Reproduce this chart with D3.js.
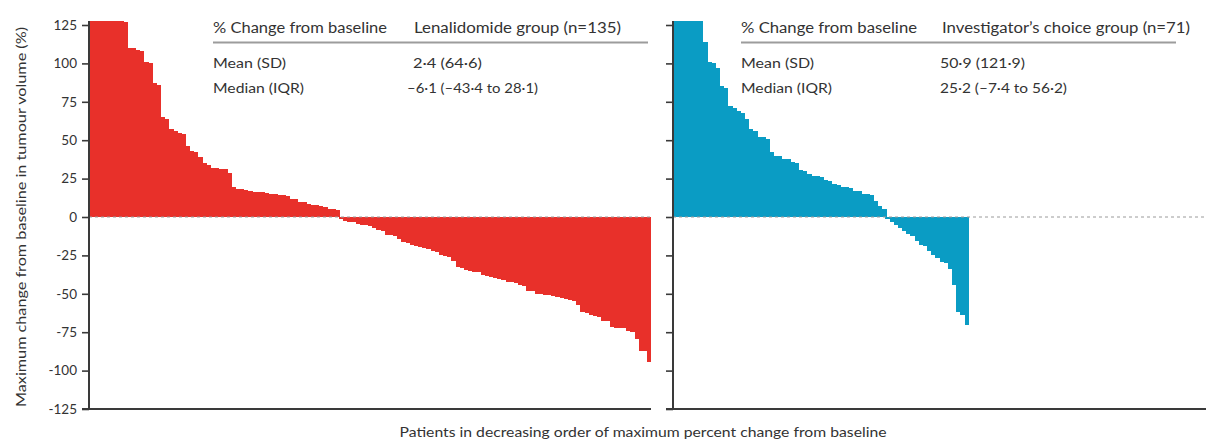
<!DOCTYPE html>
<html>
<head>
<meta charset="utf-8">
<script src="https://cdn.jsdelivr.net/npm/d3@7/dist/d3.min.js"></script>
<style>
  html, body { margin: 0; padding: 0; background: #fff; }
  svg { display: block; }
  text { font-family: Lato, "Open Sans", "Liberation Sans", sans-serif; fill: #333; }
</style>
</head>
<body>
<svg id="chart" width="1206" height="441"></svg>
<script>
// ---------- data ----------
const lenalidomideValues = [200,190,175,160,150,140,135,130,127, 110,110,109, 108, 101,100, 87,86, 65,64, 57,56,55, 54, 46, 43,42, 39, 35,34, 32,32,31,31, 28.5, 19.5, 18,18,17.5,17, 16.5,16.5,16,15.5, 15,15,14.5,14.5, 13.5, 12,11.5, 10,9.5, 8.5,8,7.5, 7,6.5, 5.5,5,4.5,
  -1, -2.5,-3,-3.5, -4.5,-5,-5.5, -6.1,-7, -8.5,-9, -11.5,-12,-12.5, -14, -16.5,-17, -18.5,-19,-19.5, -20.5,-21,-22, -23, -25,-25.5,-26, -28.5, -32.5,-33, -34.5,-35,-35.5,-36, -38,-38.5,-39, -40,-40.5,-41, -42,-42.5,-43, -44.5,-45, -48,-48.5, -50,-50,-50.5,-51, -51.5,-52,-52.5, -53.5,-54,-55, -57, -62,-62.5, -64,-64.5,-65, -67.5,-68, -71.5,-72,-72,-72.5, -74,-75, -79.5, -87,-87.5, -94.5];
const investigatorValues = [760,480,300,230,180,155,140, 114, 101,100, 97, 85,84, 72,71, 69,68, 64, 57,56, 52,52,51, 42, 40,39.5, 38,37.5, 36,35, 30.5,30, 28, 27,26.5,26, 24,23.5, 21.5,21, 19.5,19.5,19, 17,17, 15,15, 14, 10.5, 7,5,
  -1,-3,-5.5,-7.4,-9,-11,-12.5,-15.5,-18,-19,-22,-25,-26.5,-29,-30,-34,-44,-62,-64,-70];
const yTicks = [125,100,75,50,25,0,-25,-50,-75,-100,-125];
const tableHeader = "% Change from baseline";
const rowLabels = ["Mean (SD)", "Median (IQR)"];
const lenaHeader = "Lenalidomide group (n=135)";
const lenaStats = ["2·4 (64·6)", "–6·1 (–43·4 to 28·1)"];
const invHeader = "Investigator\u2019s choice group (n=71)";
const invStats = ["50·9 (121·9)", "25·2 (–7·4 to 56·2)"];
const yTitle = "Maximum change from baseline in tumour volume (%)";
const xTitle = "Patients in decreasing order of maximum percent change from baseline";

// ---------- layout ----------
const svg = d3.select("#chart");
const yTop = 25, yBottom = 409, clipTop = 21;
const step = 4.165;
const axisColor = "#3a3a3a";
const y = d3.scaleLinear().domain([-125, 125]).range([yBottom, yTop]);

svg.append("defs").append("clipPath").attr("id", "plotclip")
  .append("rect").attr("x", 0).attr("y", clipTop).attr("width", 1206).attr("height", yBottom - clipTop);

function fit(sel, w) {
  sel.attr("textLength", w).attr("lengthAdjust", "spacingAndGlyphs");
  return sel;
}

function panel(opts) {
  const { x0, values, color, axisEnd, labels } = opts;
  const x = d3.scaleBand().domain(d3.range(values.length)).range([x0, x0 + values.length * step]).padding(0);
  const g = svg.append("g");
  g.append("g").attr("clip-path", "url(#plotclip)").attr("shape-rendering", "crispEdges")
    .selectAll("rect").data(values).join("rect")
    .attr("x", (d, i) => x(i))
    .attr("width", (d, i) => i === values.length - 1 ? x.bandwidth() : x.bandwidth() + 1.2)
    .attr("y", d => y(Math.max(0, d)))
    .attr("height", d => Math.abs(y(d) - y(0)))
    .attr("fill", color);

  // dashed zero line
  g.append("line")
    .attr("x1", x0).attr("x2", axisEnd)
    .attr("y1", y(0)).attr("y2", y(0))
    .attr("stroke", "#9a9a9a").attr("stroke-width", 1)
    .attr("stroke-dasharray", "3,3");

  // y axis
  const ax = d3.axisLeft(y).tickValues(yTicks).tickSize(7).tickSizeOuter(0).tickPadding(5)
    .tickFormat(d => labels ? (d < 0 ? "-" + Math.abs(d) : String(d)) : "");
  const axg = g.append("g").attr("transform", `translate(${x0},0)`).call(ax);
  axg.select(".domain").remove();
  axg.selectAll(".tick line").attr("stroke", axisColor).attr("stroke-width", 1.6);
  axg.selectAll(".tick text").attr("fill", "#444").style("font-size", "13.5px")
    .style("font-family", "Lato, 'Open Sans', sans-serif");
  g.append("line").attr("x1", x0).attr("x2", x0).attr("y1", clipTop).attr("y2", yBottom + 1)
    .attr("stroke", axisColor).attr("stroke-width", 2);
  // bottom axis line
  g.append("line").attr("x1", x0 - 7).attr("x2", axisEnd).attr("y1", yBottom).attr("y2", yBottom)
    .attr("stroke", axisColor).attr("stroke-width", 2);
}

panel({ x0: 89, values: lenalidomideValues, color: "#e8302a", axisEnd: 651, labels: true });
panel({ x0: 673, values: investigatorValues, color: "#0a9cc4", axisEnd: 1206, labels: false });

// ---------- tables ----------
function table(tx, vx, header, stats, hdrW, valWs, hdrTW, statX) {
  fit(svg.append("text").attr("x", tx).attr("y", 33).style("font-size", "14.5px").attr("fill", "#2a2a2a").text(tableHeader), hdrTW);
  fit(svg.append("text").attr("x", vx).attr("y", 33).style("font-size", "14.5px").attr("fill", "#2a2a2a").text(header), hdrW);
  svg.append("line").attr("x1", tx).attr("x2", tx + 435).attr("y1", 42.5).attr("y2", 42.5)
    .attr("stroke", "#9c9c9c").attr("stroke-width", 1.8);
  fit(svg.append("text").attr("x", tx).attr("y", 68).style("font-size", "13.5px").attr("fill", "#444").text(rowLabels[0]), 73);
  fit(svg.append("text").attr("x", tx).attr("y", 93).style("font-size", "13.5px").attr("fill", "#444").text(rowLabels[1]), 91);
  fit(svg.append("text").attr("x", statX[0]).attr("y", 68).style("font-size", "13.5px").attr("fill", "#444").text(stats[0]), valWs[0]);
  fit(svg.append("text").attr("x", statX[1]).attr("y", 93).style("font-size", "13.5px").attr("fill", "#444").text(stats[1]), valWs[1]);
}
table(213, 414, lenaHeader, lenaStats, 207, [69, 131], 174, [413, 407]);
table(741, 942, invHeader, invStats, 248, [85, 127], 176, [940, 940]);

// ---------- axis titles ----------
fit(svg.append("text")
  .attr("transform", "translate(26,217) rotate(-90)")
  .attr("text-anchor", "middle").style("font-size", "13.5px").attr("fill", "#333").text(yTitle), 380);
fit(svg.append("text")
  .attr("x", 643).attr("y", 437).attr("text-anchor", "middle")
  .style("font-size", "12.5px").attr("fill", "#333").text(xTitle), 487);
</script>
</body>
</html>
